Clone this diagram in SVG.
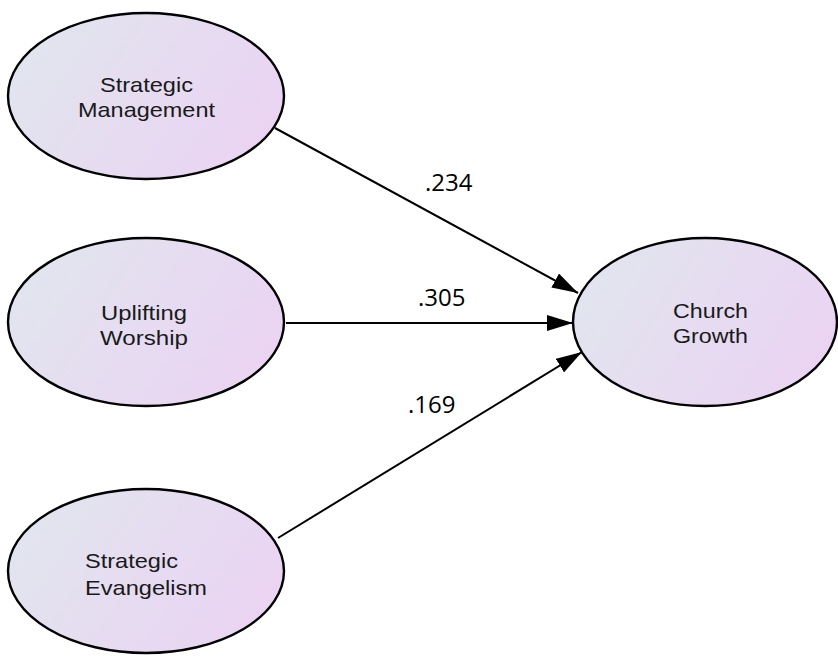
<svg xmlns="http://www.w3.org/2000/svg" width="838" height="656" viewBox="0 0 838 656">
  <style>
    .node ellipse { fill: url(#g); stroke: #000; stroke-width: 2.4; }
    .node text { font-family: "Liberation Sans", Arial, sans-serif; font-size: 21px; fill: #1a1a1a; }
    .edge { stroke: #000; stroke-width: 2; fill: none; marker-end: url(#arr); }
    .lbl { font-family: "Open Sans", "Liberation Sans", sans-serif; font-size: 24px; fill: #000; }
  </style>
  <defs>
    <linearGradient id="g" x1="0" y1="0.3" x2="1" y2="0.7">
      <stop offset="0" stop-color="#e1e5ee"/>
      <stop offset="1" stop-color="#ebd3f3"/>
    </linearGradient>
    <marker id="arr" markerUnits="userSpaceOnUse" markerWidth="26" markerHeight="16" refX="26" refY="8" orient="auto" viewBox="0 0 26 16">
      <path d="M0,0 L26,8 L0,16 z" fill="#000"/>
    </marker>
  </defs>
  <rect width="838" height="656" fill="#fff"/>

  <g id="connectors">
    <line class="edge" x1="275" y1="128" x2="578" y2="293"/>
    <line class="edge" x1="286" y1="323" x2="573" y2="323"/>
    <line class="edge" x1="278" y1="538" x2="582" y2="352"/>
    <text class="lbl" x="425" y="191">.234</text>
    <text class="lbl" x="418" y="306">.305</text>
    <text class="lbl" x="408" y="413">.169</text>
  </g>

  <g id="strategic-management" class="node">
    <ellipse cx="146" cy="96" rx="138" ry="83"/>
    <text x="100" y="92" textLength="93" lengthAdjust="spacingAndGlyphs">Strategic</text>
    <text x="78" y="117" textLength="137" lengthAdjust="spacingAndGlyphs">Management</text>
  </g>

  <g id="uplifting-worship" class="node">
    <ellipse cx="146" cy="322" rx="138" ry="84"/>
    <text x="101" y="320" textLength="86" lengthAdjust="spacingAndGlyphs">Uplifting</text>
    <text x="100" y="345" textLength="88" lengthAdjust="spacingAndGlyphs">Worship</text>
  </g>

  <g id="strategic-evangelism" class="node">
    <ellipse cx="146" cy="571" rx="138" ry="82"/>
    <text x="85" y="568" textLength="93" lengthAdjust="spacingAndGlyphs">Strategic</text>
    <text x="85" y="595" textLength="122" lengthAdjust="spacingAndGlyphs">Evangelism</text>
  </g>

  <g id="church-growth" class="node">
    <ellipse cx="705" cy="322" rx="132" ry="84"/>
    <text x="673" y="318" textLength="75" lengthAdjust="spacingAndGlyphs">Church</text>
    <text x="673" y="343" textLength="75" lengthAdjust="spacingAndGlyphs">Growth</text>
  </g>
</svg>
